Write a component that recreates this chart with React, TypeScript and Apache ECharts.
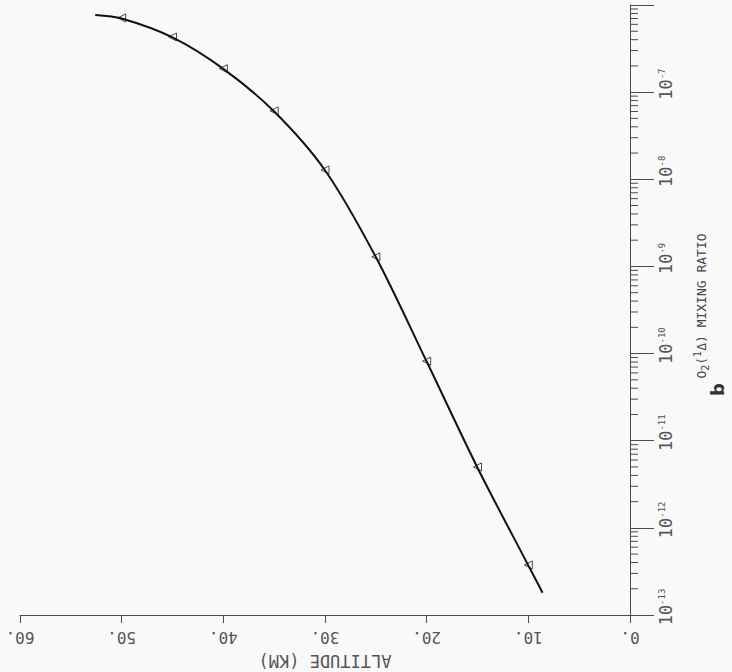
import React, { useEffect, useRef } from "react";
import * as echarts from "echarts";

// Altitudes (km) of the plotted triangle markers
const markerAltitudes = [50, 45, 40, 35, 30, 25, 20, 15, 10];
// O2(1Δ) mixing ratio at those altitudes
const markerRatios = [7.1e-7, 4.3e-7, 1.86e-7, 6.1e-8, 1.28e-8, 1.29e-9, 8.2e-11, 5.0e-12, 3.75e-13];

// Smooth profile curve
const curveAltitudes = [52.6, 50, 45, 40, 35, 30, 25, 20, 15, 10, 8.6];
const curveRatios = [7.7e-7, 7.0e-7, 4.25e-7, 1.85e-7, 6.0e-8, 1.27e-8, 1.28e-9, 8.1e-11, 4.9e-12, 3.7e-13, 1.8e-13];

// Axis definitions
const altitudeTicks = [0, 10, 20, 30, 40, 50, 60];
const decadeExponents = [-13, -12, -11, -10, -9, -8, -7, -6];
const minorMultipliers = [2, 3, 4, 5, 6, 7, 8, 9];

const FONT = "'DejaVu Sans Mono', monospace";
const INK = "#4a4a4a";

export default function App() {
  const ref = useRef<HTMLDivElement>(null);

  useEffect(() => {
    if (!ref.current) return;
    const chart = echarts.init(ref.current, null, { renderer: "svg" });

    const minorTicks: number[][] = [];
    decadeExponents.slice(0, -1).forEach((e) => {
      minorMultipliers.forEach((m) => minorTicks.push([0, m * Math.pow(10, e)]));
    });

    chart.setOption({
      animation: false,
      backgroundColor: "#f9f9f9",
      grid: { left: 20, right: 102, top: 5, bottom: 57, containLabel: false, outerBoundsMode: "none" },
      xAxis: {
        type: "value",
        min: altitudeTicks[0],
        max: altitudeTicks[altitudeTicks.length - 1],
        interval: 10,
        inverse: true,
        position: "bottom",
        splitLine: { show: false },
        axisLine: { show: true, onZero: false, lineStyle: { color: INK, width: 1 } },
        axisTick: { show: true, length: 8, lineStyle: { color: INK } },
        axisLabel: {
          rotate: 180,
          margin: 14,
          fontFamily: FONT,
          fontSize: 16,
          color: "#555",
          formatter: (v: number) => `${v}.`,
        },
        name: "ALTITUDE (KM)",
        nameLocation: "middle",
        nameRotate: 180,
        nameGap: 37,
        nameTextStyle: { fontFamily: FONT, fontSize: 17, color: "#555" },
      },
      yAxis: {
        type: "log",
        logBase: 10,
        min: 1e-13,
        max: 1e-6,
        position: "right",
        splitLine: { show: false },
        axisLine: { show: true, onZero: false, lineStyle: { color: INK, width: 1 } },
        axisTick: { show: true, length: 24, lineStyle: { color: INK } },
        axisLabel: {
          rotate: 90,
          margin: 27,
          color: "#555",
          formatter: (v: number) => {
            const e = Math.round(Math.log10(v));
            if (e >= -6) return "";
            return `{sp|}{b|10}{e|${e}}`;
          },
          rich: {
            sp: { width: 16 },
            b: { fontFamily: FONT, fontSize: 17, color: "#555" },
            e: { fontFamily: FONT, fontSize: 9, color: "#555", verticalAlign: "top", padding: [0, 0, 8, 0] },
          },
        },
        name: "{sp|}O{sub|2}({sup|1}Δ) MIXING RATIO",
        nameLocation: "middle",
        nameRotate: 90,
        nameGap: 62,
        nameTextStyle: {
          fontFamily: FONT,
          fontSize: 13,
          color: "#444",
          rich: {
            sp: { width: 8 },
            sub: { fontFamily: FONT, fontSize: 10, color: "#444", padding: [8, 0, 0, 0] },
            sup: { fontFamily: FONT, fontSize: 10, color: "#444", padding: [0, 0, 8, 0] },
          },
        },
      },
      graphic: [
        {
          type: "text",
          x: 708,
          y: 396,
          rotation: Math.PI / 2,
          style: { text: "b", fontFamily: "DejaVu Sans", fontWeight: "bold", fontSize: 18, fill: "#333" },
        },
      ],
      series: [
        {
          type: "custom",
          silent: true,
          clip: false,
          data: minorTicks,
          renderItem: (_params: any, api: any) => {
            const p = api.coord([api.value(0), api.value(1)]);
            return {
              type: "line",
              shape: { x1: p[0], y1: p[1], x2: p[0] + 8, y2: p[1] },
              style: { stroke: INK, lineWidth: 1 },
            };
          },
        },
        {
          type: "line",
          data: curveAltitudes.map((a, i) => [a, curveRatios[i]]),
          smooth: 0.3,
          showSymbol: false,
          symbol: "none",
          lineStyle: { color: "#111", width: 2 },
          silent: true,
        },
        {
          type: "scatter",
          data: markerAltitudes.map((a, i) => [a, markerRatios[i]]),
          symbol: "triangle",
          symbolRotate: 90,
          symbolSize: 8,
          itemStyle: { color: "transparent", borderColor: "#222", borderWidth: 1 },
          silent: true,
        },
      ],
    });

    return () => chart.dispose();
  }, []);

  return (
    <div
      ref={ref}
      style={{ position: "absolute", left: 0, top: 0, width: 732, height: 672 }}
    />
  );
}
